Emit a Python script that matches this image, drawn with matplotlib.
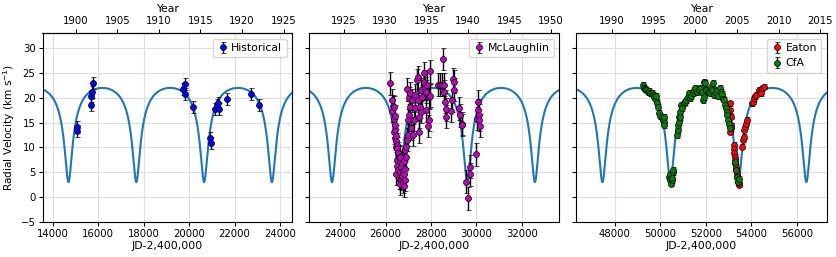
import numpy as np
import matplotlib
matplotlib.use("Agg")
import matplotlib.pyplot as plt
from matplotlib.ticker import MultipleLocator, FixedLocator

# ---------------- data ----------------
# Orbital model parameters (Keplerian RV curve)
P_ORB = 2979.0        # days
T_PERI = 47470.0      # JD-2,400,000 of periastron (RV minimum)
ECC = 0.57
K_AMP = 9.5
OMEGA = np.pi
GAMMA = 17.9

hist_jd = [15055, 15055, 15683, 15727, 15697, 15785, 19741, 19830, 19830, 20167,
           20900, 20971, 21148, 21220, 21266, 21310, 21662, 22716, 23055]
hist_rv = [14.1, 13.3, 20.3, 21.1, 18.5, 22.9, 21.7, 22.7, 20.7, 18.1,
           11.9, 10.9, 17.8, 18.5, 19.0, 17.7, 19.8, 20.7, 18.6]
hist_err = 1.2

mcl_jd = [26203, 26276, 26291, 26320, 26349, 26350, 26380, 26393, 26408, 26420,
          26423, 26440, 26452, 26467, 26467, 26481, 26496, 26500, 26520, 26540,
          26560, 26584, 26600, 26614, 26628, 26640, 26643, 26672, 26690, 26700,
          26716, 26746, 26760, 26790, 26800, 26819, 26830, 26849, 26850, 26863,
          26878, 26907, 26937, 26951, 26966, 26995, 27025, 27039, 27069, 27083,
          27113, 27157, 27201, 27230, 27274, 27304, 27362, 27406, 27436, 27450,
          27480, 27494, 27538, 27553, 27597, 27670, 27700, 27715, 27759, 27788,
          27817, 27847, 27891, 27906, 27935, 27964, 28287, 28405, 28480, 28507,
          28551, 28581, 28610, 28639, 28639, 28874, 28918, 28948, 28992, 29006,
          29241, 29285, 29344, 29373, 29550, 29623, 29696, 29725, 29975, 30019,
          30049, 30063, 30093, 30122, 30137]
mcl_rv = [22.9, 19.5, 17.4, 18.3, 18.1, 15.8, 13.0, 16.3, 13.5, 11.8,
          14.5, 10.0, 12.3, 11.3, 4.7, 10.5, 9.8, 7.5, 6.2, 8.8,
          5.5, 8.1, 3.8, 7.1, 5.1, 2.6, 8.0, 6.1, 3.6, 6.9,
          4.2, 3.1, 5.3, 2.2, 7.2, 4.7, 9.7, 5.7, 3.4, 9.4,
          8.1, 10.1, 11.5, 21.7, 12.5, 15.5, 16.5, 19.9, 20.9, 18.2,
          13.8, 19.5, 12.5, 15.5, 20.5, 17.9, 23.6, 24.1, 19.5, 16.2,
          13.1, 18.2, 21.6, 17.2, 20.2, 24.9, 23.2, 21.9, 21.2, 17.5,
          22.6, 14.3, 15.5, 20.2, 25.3, 20.4, 22.6, 22.6, 22.6, 27.8,
          22.6, 21.2, 19.2, 17.7, 16.2, 17.4, 19.5, 23.7, 23.2, 21.6,
          17.9, 16.5, 14.8, 14.5, 3.1, -0.3, 6.1, 4.6, 8.6, 15.8,
          19.2, 17.5, 16.5, 15.5, 14.4]
mcl_err = 2.3

cfa_jd = [49231, 49275, 49333, 49392, 49450, 49523, 49567, 49626, 49670, 49743,
          49801, 49831, 49860, 49918, 49948, 50006, 50065, 50123, 50152, 50167,
          50182, 50386, 50416, 50445, 50474, 50500, 50518, 50547, 50577, 50738,
          50767, 50781, 50811, 50826, 50855, 50884, 50928, 50972, 51030, 51103,
          51147, 51206, 51250, 51294, 51352, 51440, 51498, 51542, 51616, 51689,
          51762, 51835, 51879, 51908, 51937, 51967, 52025, 52084, 52171, 52230,
          52289, 52318, 52376, 52435, 52493, 52552, 52610, 52669, 52727, 52757,
          52815, 52844, 52888, 52917, 52947, 52991, 53020, 53049, 53300, 53340,
          53380, 53420, 53450]
cfa_rv = [22.6, 22.0, 21.7, 21.6, 21.2, 21.4, 20.9, 21.0, 20.6, 20.2,
          19.5, 20.3, 18.9, 18.1, 16.9, 16.3, 16.0, 15.6, 15.2, 14.5,
          16.2, 4.1, 3.4, 4.6, 2.7, 3.4, 3.9, 5.1, 5.4, 12.5,
          13.5, 14.5, 15.2, 16.2, 17.2, 16.2, 18.5, 17.9, 18.9, 19.2,
          19.5, 20.2, 20.9, 19.9, 20.3, 20.9, 21.6, 21.9, 21.2, 21.6,
          21.9, 21.2, 19.5, 23.2, 20.2, 22.9, 21.6, 21.2, 20.9, 22.2,
          21.6, 22.9, 20.5, 21.0, 21.6, 20.3, 21.9, 21.2, 20.8, 19.7,
          19.5, 18.5, 17.9, 17.2, 16.5, 15.5, 14.8, 13.8, 7.0, 5.5,
          4.0, 3.0, 3.6]
cfa_err = 0.6

eaton_jd = [53049, 53078, 53078, 53093, 53108, 53122, 53225, 53239, 53254, 53269,
            53275, 53283, 53312, 53327, 53356, 53371, 53400, 53444, 53450, 53605,
            53634, 53664, 53693, 53722, 53766, 53810, 54029, 54073, 54103, 54147,
            54190, 54351, 54395, 54439, 54483, 54541]
eaton_rv = [18.9, 17.5, 13.1, 14.5, 16.2, 13.8, 10.5, 9.6, 8.8, 8.1,
            7.4, 6.8, 6.1, 5.4, 4.7, 4.1, 3.1, 2.4, 2.9, 10.1,
            11.5, 12.1, 13.5, 14.2, 14.8, 15.6, 18.9, 19.2, 19.9, 20.3,
            20.6, 21.6, 21.2, 20.9, 21.9, 22.2]
eaton_err = 0.5

panel_xlims = [(13560, 24520), (22600, 33650), (46290, 57290)]
panel_years = [[1900, 1905, 1910, 1915, 1920, 1925],
               [1925, 1930, 1935, 1940, 1945, 1950],
               [1990, 1995, 2000, 2005, 2010, 2015]]
y_lim = (-5, 33)


def jd_to_year(jd):
    return 1900.0 + (np.asarray(jd) - 15020.0) / 365.25


def year_to_jd(yr):
    return 15020.0 + (np.asarray(yr) - 1900.0) * 365.25


def model_rv(t):
    M = 2 * np.pi * (t - T_PERI) / P_ORB
    E = M.copy()
    for _ in range(50):
        E = E - (E - ECC * np.sin(E) - M) / (1 - ECC * np.cos(E))
    nu = 2 * np.arctan2(np.sqrt(1 + ECC) * np.sin(E / 2),
                        np.sqrt(1 - ECC) * np.cos(E / 2))
    return GAMMA + K_AMP * (np.cos(nu + OMEGA) + ECC * np.cos(OMEGA))


# ---------------- figure ----------------
plt.rcParams['font.family'] = ['DejaVu Sans']
FS = 7.3
fig = plt.figure(figsize=(8.36, 2.57), dpi=100)
W, H = 836.0, 257.0
lefts = [42.5, 308.5, 575.5]
rights = [292.0, 559.3, 826.5]
top_px, bot_px = 33.3, 221.7

axes = []
for i in range(3):
    ax = fig.add_axes([lefts[i] / W, 1 - bot_px / H,
                       (rights[i] - lefts[i]) / W, (bot_px - top_px) / H])
    axes.append(ax)

ekw = dict(fmt='o', ms=4.3, mec='k', mew=0.5, ecolor='k', elinewidth=1.0,
           capsize=1.8, capthick=0.8, zorder=3)

for i, ax in enumerate(axes):
    x0, x1 = panel_xlims[i]
    t = np.linspace(x0, x1, 4000)
    ax.plot(t, model_rv(t), color='#1f77b4', lw=1.5, zorder=2)
    ax.set_xlim(x0, x1)
    ax.set_ylim(*y_lim)
    ax.yaxis.set_major_locator(MultipleLocator(5))
    ax.xaxis.set_major_locator(MultipleLocator(2000))
    ax.grid(True, color='0.87', lw=0.8, zorder=0)
    ax.set_axisbelow(True)
    ax.tick_params(labelsize=FS, length=3, pad=2)
    ax.set_xlabel('JD-2,400,000', fontsize=FS + 0.5, labelpad=2)
    sec = ax.secondary_xaxis('top', functions=(jd_to_year, year_to_jd))
    sec.xaxis.set_major_locator(FixedLocator(panel_years[i]))
    sec.tick_params(labelsize=FS, length=3, pad=2)
    sec.set_xlabel('Year', fontsize=FS + 0.5, labelpad=3)
    if i > 0:
        ax.tick_params(labelleft=False)

axes[0].set_ylabel('Radial Velocity (km s$^{-1}$)', fontsize=FS + 0.3)
axes[0].yaxis.set_label_coords(-0.102, 0.5)

axes[0].errorbar(hist_jd, hist_rv, yerr=hist_err, mfc='blue', label='Historical', **ekw)
axes[1].errorbar(mcl_jd, mcl_rv, yerr=mcl_err, mfc='m', label='McLaughlin', **ekw)
axes[2].errorbar(eaton_jd, eaton_rv, yerr=eaton_err, mfc='red', label='Eaton', **ekw)
axes[2].errorbar(cfa_jd, cfa_rv, yerr=cfa_err, mfc='green', label='CfA', **ekw)

for ax in axes:
    ax.legend(loc='upper right', fontsize=FS + 0.5, handletextpad=0.3,
              borderpad=0.4, handlelength=1.0, framealpha=0.8)

fig.savefig('out.png', dpi=100)
